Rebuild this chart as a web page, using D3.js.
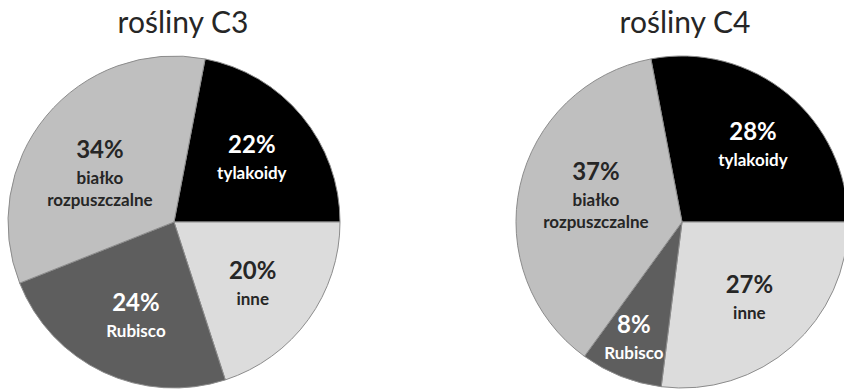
<!DOCTYPE html>
<html>
<head>
<meta charset="utf-8">
<script src="https://cdn.jsdelivr.net/npm/d3@7"></script>
<style>
  body { margin: 0; background: #fff; }
  svg { display: block; }
  .title { font-family: Lato, "Open Sans", sans-serif; font-size: 30px; fill: #262626; }
  .pct { font-family: Lato, "Open Sans", sans-serif; font-weight: bold; font-size: 24px; }
  .lbl { font-family: Lato, "Open Sans", sans-serif; font-weight: bold; font-size: 17px; }
</style>
</head>
<body>
<svg id="chart"></svg>
<script>
(function (d3) {
  "use strict";

  /***** Data *****/
  var categories = ["tylakoidy", "inne", "Rubisco", "białko\nrozpuszczalne"];
  var titles = ["rośliny C3", "rośliny C4"];
  var valuesC3 = [22, 20, 24, 34];
  var valuesC4 = [28, 27, 8, 37];

  /***** Configuration *****/
  var width = 844, height = 389;
  var radius = 166;
  var fills = ["#000000", "#dcdcdc", "#5e5e5e", "#bfbfbf"];
  var textFills = ["#ffffff", "#262626", "#ffffff", "#262626"];
  // label placement: [share of radius, turn away from the slice bisector in degrees]
  var labelPlace = [
    [[0.60, 1], [0.61, 3], [0.62, -3.5], [0.53, -7]],
    [[0.62, 4], [0.62, 0.5], [0.77, 0.5], [0.54, 3.5]]
  ];
  var charts = [
    {title: titles[0], values: valuesC3, cx: 174, titleX: 183},
    {title: titles[1], values: valuesC4, cx: 682, titleX: 685}
  ];
  var cy = 222, titleY = 33;

  var svg = d3.select("#chart").attr("width", width).attr("height", height);

  charts.forEach(function (c, ci) {
    var total = d3.sum(c.values);
    // first slice (tylakoidy) ends at 3 o'clock, the rest follow clockwise
    var start = Math.PI / 2 - 2 * Math.PI * c.values[0] / total;
    var pie = d3.pie().sort(null).startAngle(start).endAngle(start + 2 * Math.PI);
    var arc = d3.arc().innerRadius(0).outerRadius(radius);
    var arcs = pie(c.values);

    svg.append("text").attr("class", "title")
      .attr("x", c.titleX).attr("y", titleY)
      .attr("text-anchor", "middle")
      .text(c.title);

    var g = svg.append("g").attr("transform", "translate(" + c.cx + "," + cy + ")");

    g.selectAll("path.slice").data(arcs).enter().append("path")
      .attr("class", "slice")
      .attr("d", arc)
      .attr("fill", function (d, i) { return fills[i]; })
      .attr("stroke", "#8c8c8c")
      .attr("stroke-width", 1);

    var labels = g.selectAll("g.label").data(arcs).enter().append("g")
      .attr("class", "label")
      .attr("transform", function (d, i) {
        var p = labelPlace[ci][i];
        var r = radius * p[0];
        var mid = (d.startAngle + d.endAngle) / 2 + p[1] * Math.PI / 180;
        return "translate(" + (r * Math.sin(mid)) + "," + (-r * Math.cos(mid)) + ")";
      });

    labels.each(function (d, i) {
      var sel = d3.select(this);
      var lines = categories[i].split("\n");
      var n = lines.length + 1;
      var y0 = 3 - (n - 1) * 10;
      sel.append("text").attr("class", "pct")
        .attr("text-anchor", "middle")
        .attr("y", y0)
        .attr("fill", textFills[i])
        .text(d.data + "%");
      lines.forEach(function (t, k) {
        sel.append("text").attr("class", "lbl")
          .attr("text-anchor", "middle")
          .attr("y", y0 + 26 + k * 22)
          .attr("fill", textFills[i])
          .text(t);
      });
    });
  });
})(d3);
</script>
</body>
</html>
